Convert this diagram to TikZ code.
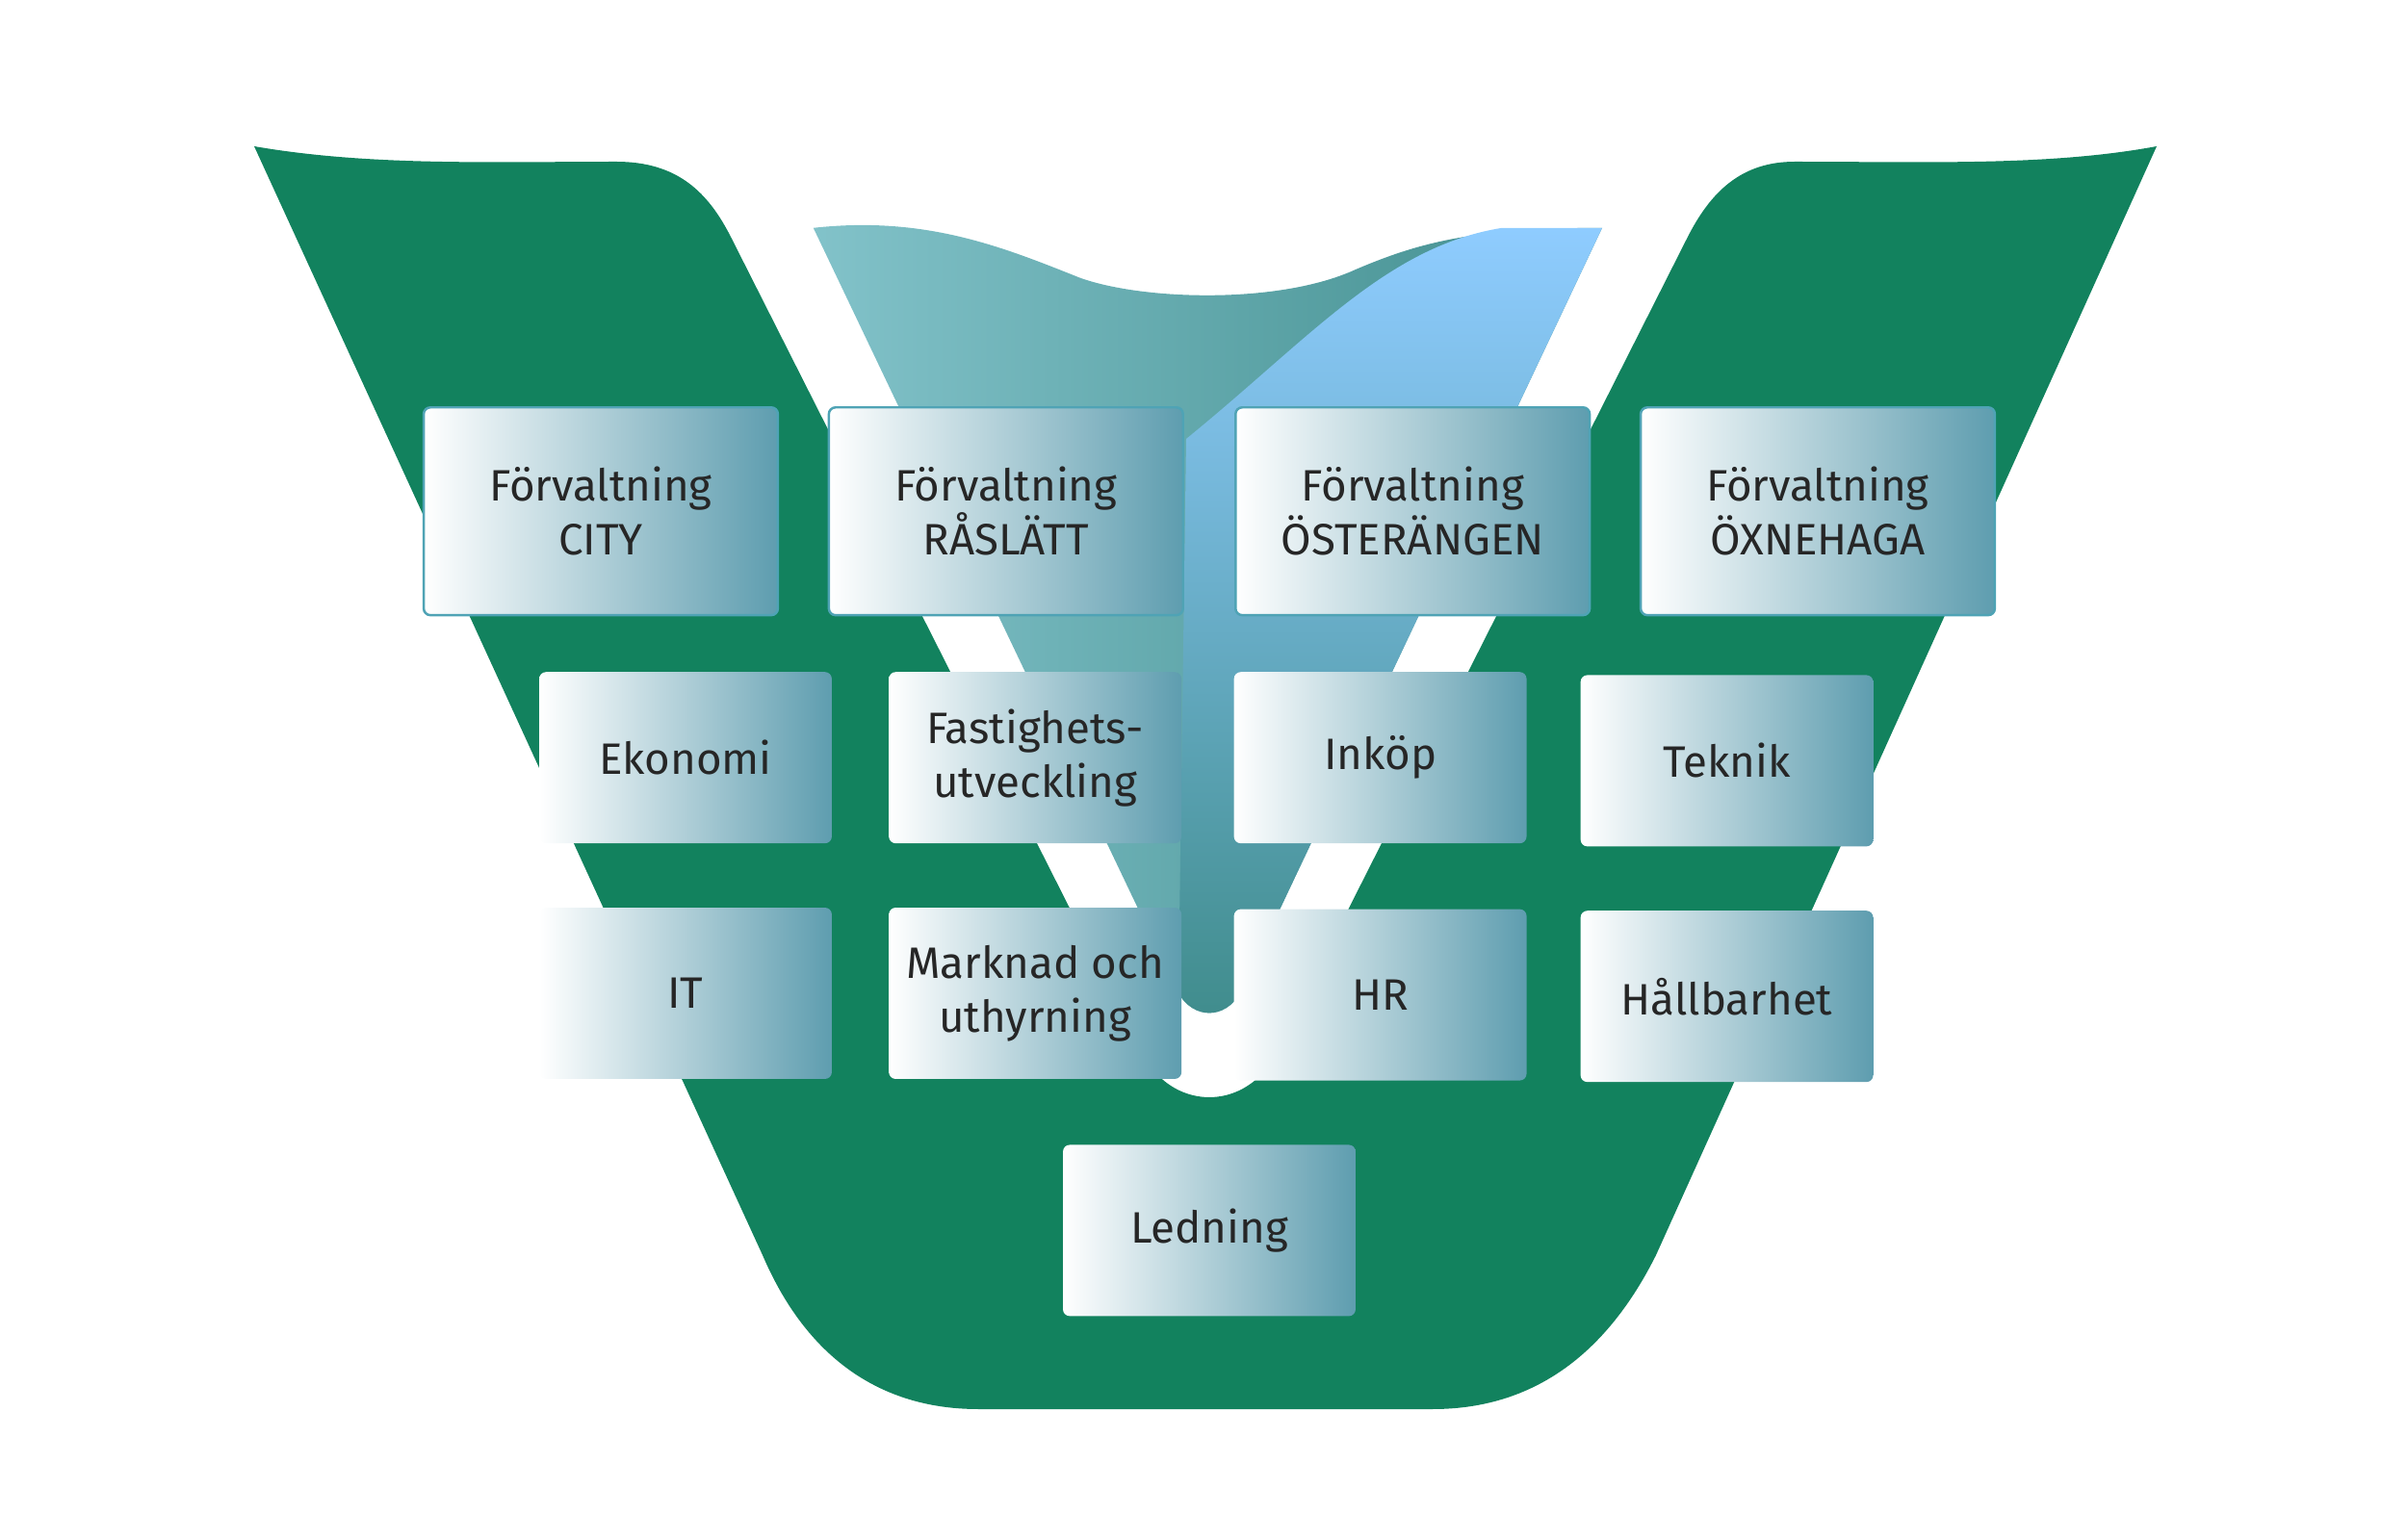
\documentclass[tikz,border=0pt]{standalone}
\usepackage{fontspec}
\setmainfont{Fira Sans}
\definecolor{vgreen}{HTML}{12825E}
\definecolor{boxblue}{HTML}{5E9DAF}
\definecolor{boxline}{HTML}{4FA3B5}
\tikzset{
  box/.style={rectangle,rounded corners=2pt,left color=white,right color=boxblue,
    minimum width=3.04cm,minimum height=1.78cm,align=center,inner sep=2pt,
    font=\fontsize{13}{16}\selectfont,text=black!85},
  bigbox/.style={box,minimum width=3.68cm,minimum height=2.16cm,draw=boxline,line width=0.7pt}
}
\begin{document}
\begin{tikzpicture}[x=0.016cm,y=-0.016cm]
      \useasboundingbox (0,0) rectangle (1562.5,1000);
      % green V
      \fill[vgreen] (165,95) .. controls (240,108) and (320,105) .. (400,105)
        .. controls (440,105) and (460,125) .. (475,155)
        -- (745,690) .. controls (765,720) and (805,720) .. (825,690)
        -- (1095,155) .. controls (1110,125) and (1130,105) .. (1165,105)
        .. controls (1250,105) and (1330,108) .. (1400,95)
        -- (1075,815) .. controls (1040,885) and (990,915) .. (930,915)
        -- (635,915) .. controls (575,915) and (525,885) .. (495,815) -- cycle;
      % blue V
      \shade[left color=blue!10!cyan!40!gray!70,right color=cyan!40!black!75]
        (528,148) .. controls (600,140) and (650,160) .. (700,180)
        .. controls (740,195) and (830,198) .. (880,175)
        .. controls (920,158) and (955,148) .. (1040,148)
        -- (805,645) .. controls (795,662) and (775,662) .. (765,645) -- cycle;
      \shade[top color=cyan!30!white!80!blue,bottom color=cyan!40!black!75]
        (770,285) .. controls (850,220) and (900,160) .. (975,148)
        -- (1040,148) -- (805,645) .. controls (795,662) and (775,662) .. (765,645) -- cycle;
      % boxes
      \node[bigbox] (city) at (390,332) {Förvaltning\\CITY};
      \node[bigbox] (raslatt) at (653,332) {Förvaltning\\RÅSLÄTT};
      \node[bigbox] (osterangen) at (917,332) {Förvaltning\\ÖSTERÄNGEN};
      \node[bigbox] (oxnehaga) at (1180,332) {Förvaltning\\ÖXNEHAGA};
      \node[box] (ekonomi) at (445,492) {Ekonomi};
      \node[box] (fastighet) at (672,492) {Fastighets-\\utveckling};
      \node[box] (inkop) at (896,492) {Inköp};
      \node[box] (teknik) at (1121,494) {Teknik};
      \node[box] (it) at (445,645) {IT};
      \node[box] (marknad) at (672,645) {Marknad och\\uthyrning};
      \node[box] (hr) at (896,646) {HR};
      \node[box] (hallbarhet) at (1121,647) {Hållbarhet};
      \node[box] (ledning) at (785,799) {Ledning};
\end{tikzpicture}
\end{document}
